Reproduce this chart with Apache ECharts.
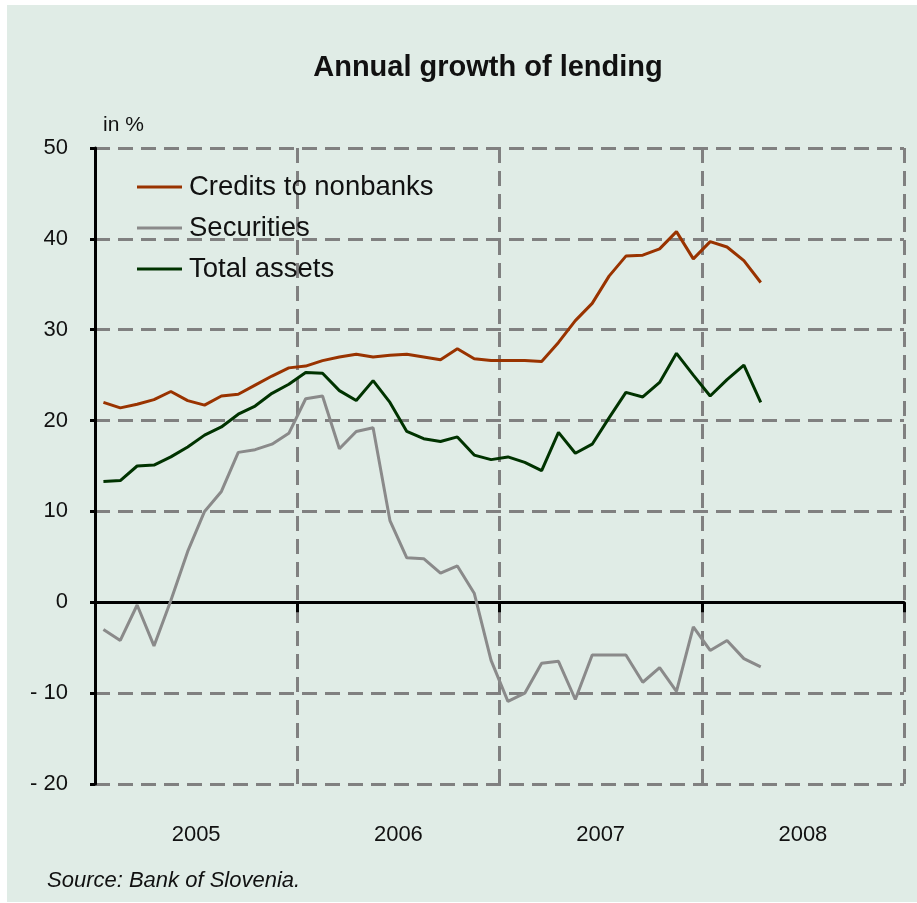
<!DOCTYPE html>
<html><head><meta charset="utf-8">
<script src="https://cdn.jsdelivr.net/npm/echarts@6/dist/echarts.min.js"></script>
<style>html,body{margin:0;padding:0;background:#fff}#c{width:917px;height:903px}</style>
</head><body><div id="c"></div>
<script>
const years = ['2005', '2006', '2007', '2008'];
const monthNames = ['Jan','Feb','Mar','Apr','May','Jun','Jul','Aug','Sep','Oct','Nov','Dec'];
const credits = [22.0,21.4,21.8,22.3,23.2,22.2,21.7,22.7,22.9,23.9,24.9,25.8,
                 26.0,26.6,27.0,27.3,27.0,27.2,27.3,27.0,26.7,27.9,26.8,26.6,
                 26.6,26.6,26.5,28.6,31.0,32.9,35.9,38.1,38.2,38.9,40.8,37.8,
                 39.7,39.1,37.6,35.2];
const securities = [-3.0,-4.2,-0.3,-4.8,0.2,5.6,10.0,12.2,16.5,16.8,17.4,18.6,
                    22.4,22.7,16.9,18.8,19.2,9.0,4.9,4.8,3.2,4.0,1.0,-6.4,
                    -10.9,-10.0,-6.7,-6.5,-10.7,-5.8,-5.8,-5.8,-8.8,-7.2,-9.8,-2.7,
                    -5.3,-4.2,-6.2,-7.1];
const totalAssets = [13.3,13.4,15.0,15.1,16.0,17.1,18.4,19.3,20.7,21.6,23.0,24.0,
                     25.3,25.2,23.3,22.2,24.4,22.0,18.8,18.0,17.7,18.2,16.2,15.7,
                     16.0,15.4,14.5,18.7,16.4,17.4,20.3,23.1,22.6,24.2,27.4,25.0,
                     22.7,24.5,26.1,22.0];
const seriesNames = ['Credits to nonbanks', 'Securities', 'Total assets'];

const months = [];
years.forEach(y => monthNames.forEach(m => months.push(m + ' ' + y)));

const FONT = '"Liberation Sans", Arial, sans-serif';
const gridBox = {left: 95, right: 13, top: 148, bottom: 119};
const dash = {color: '#808080', width: 3, type: [15, 8]};

const chart = echarts.init(document.getElementById('c'), null, {renderer: 'canvas'});
chart.setOption({
  backgroundColor: '#ffffff',
  animation: false,
  textStyle: {fontFamily: FONT},
  graphic: [
    {type: 'rect', z: -100, shape: {x: 7, y: 5, width: 910, height: 897}, style: {fill: '#e0ece6'}},
    {type: 'text', left: 103, top: 115, style: {text: 'in %', font: '21px ' + FONT, fill: '#111'}},
    {type: 'text', left: 47, top: 870, style: {text: 'Source: Bank of Slovenia.', font: 'italic 22px ' + FONT, fill: '#111'}}
  ],
  title: {
    text: 'Annual growth of lending',
    left: 483, top: 48, textAlign: 'center',
    textStyle: {fontFamily: FONT, fontSize: 29, fontWeight: 'bold', color: '#111'}
  },
  legend: {
    orient: 'vertical', left: 137, top: 173, padding: 0, itemWidth: 45, itemHeight: 12, itemGap: 13,
    data: seriesNames.map(n => ({name: n, icon: 'path://M0,5 L45,5 L45,8 L0,8 Z'})),
    textStyle: {fontFamily: FONT, fontSize: 27.5, lineHeight: 27, color: '#111', padding: [0, 0, 0, 2]}
  },
  grid: [Object.assign({}, gridBox), Object.assign({}, gridBox)],
  xAxis: [
    {type: 'category', gridIndex: 0, data: years, boundaryGap: true, position: 'bottom',
     axisLine: {show: false, onZero: false}, axisTick: {show: false},
     axisLabel: {fontFamily: FONT, fontSize: 22, color: '#111', margin: 40},
     splitLine: {show: true, interval: 0, lineStyle: dash}},
    {type: 'category', gridIndex: 0, data: months, boundaryGap: true, show: false,
     axisLine: {onZero: false}},
    {type: 'category', gridIndex: 1, data: years, boundaryGap: true, position: 'bottom',
     axisLine: {show: true, onZero: true, lineStyle: {color: '#000', width: 3}},
     axisTick: {show: true, length: 10, lineStyle: {color: '#000', width: 3}},
     axisLabel: {show: false}, splitLine: {show: false}}
  ],
  yAxis: [
    {type: 'value', gridIndex: 0, min: -20, max: 50, interval: 10,
     axisLine: {show: true, onZero: false, lineStyle: {color: '#000', width: 3}},
     axisTick: {show: true, length: 5, lineStyle: {color: '#000', width: 3}},
     axisLabel: {fontFamily: FONT, fontSize: 22, color: '#111', margin: 27,
       formatter: v => v < 0 ? '- ' + Math.abs(v) : String(v)},
     splitLine: {show: true, lineStyle: dash}},
    {type: 'value', gridIndex: 1, min: -20, max: 50, interval: 10, show: false,
     axisLine: {onZero: false}}
  ],
  series: [
    {name: seriesNames[0], type: 'line', xAxisIndex: 1, yAxisIndex: 0, data: credits, symbol: 'none',
     lineStyle: {color: '#993300', width: 3}, itemStyle: {color: '#993300'}, z: 5},
    {name: seriesNames[1], type: 'line', xAxisIndex: 1, yAxisIndex: 0, data: securities, symbol: 'none',
     lineStyle: {color: '#8a8a8a', width: 3}, itemStyle: {color: '#8a8a8a'}, z: 4},
    {name: seriesNames[2], type: 'line', xAxisIndex: 1, yAxisIndex: 0, data: totalAssets, symbol: 'none',
     lineStyle: {color: '#003300', width: 3}, itemStyle: {color: '#003300'}, z: 5}
  ]
});
</script></body></html>
